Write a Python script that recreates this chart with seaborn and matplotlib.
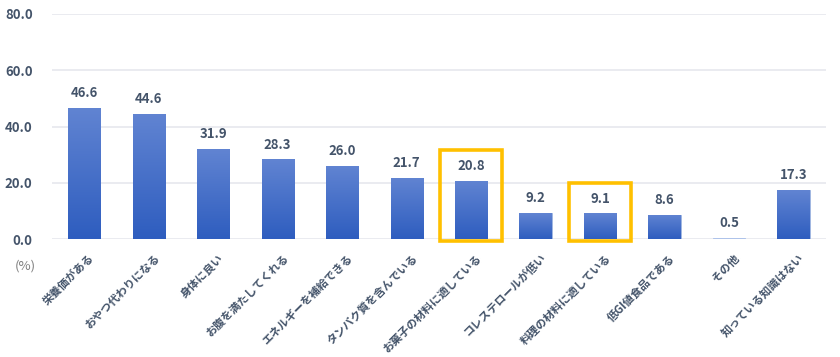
import numpy as np
import pandas as pd
import matplotlib
matplotlib.use("Agg")
import matplotlib.pyplot as plt
import matplotlib.transforms as mtransforms
import seaborn as sns
from matplotlib.patches import Rectangle

sns.set_theme(style="white")
plt.rcParams['font.family'] = ['Noto Sans CJK JP', 'DejaVu Sans']

# data
categories = ["栄養価がある", "おやつ代わりになる", "身体に良い", "お腹を満たしてくれる",
              "エネルギーを補給できる", "タンパク質を含んでいる", "お菓子の材料に適している",
              "コレステロールが低い", "料理の材料に適している", "低GI値食品である",
              "その他", "知っている知識はない"]
values = [46.6, 44.6, 31.9, 28.3, 26.0, 21.7, 20.8, 9.2, 9.1, 8.6, 0.5, 17.3]
highlight = ["お菓子の材料に適している", "料理の材料に適している"]
yticks = [0, 20, 40, 60, 80]

df = pd.DataFrame({"item": categories, "pct": values})

text_col = "#44546A"

fig = plt.figure(figsize=(8.4, 3.57), dpi=100)
ax = fig.add_axes([0.062, 0.3305, 0.921, 0.6303])

sns.barplot(data=df, x="item", y="pct", color="#4472C4", width=0.5,
            saturation=1, ax=ax, zorder=3)

# gradient fill on the bars
grad = np.linspace(0, 1, 256).reshape(-1, 1)
cmap = matplotlib.colors.LinearSegmentedColormap.from_list(
    "bluegrad", ["#2E5DBF", "#6184D2"])
for bar in ax.patches:
    x0, y0 = bar.get_x(), bar.get_y()
    w, h = bar.get_width(), bar.get_height()
    bar.set_facecolor("none")
    bar.set_edgecolor("#8FAADC")
    bar.set_linewidth(0.6)
    if h < 2:
        # tiny bar only shows the light top of the gradient
        bar.set_facecolor("#A9C0EA")
        bar.set_edgecolor("#A9C0EA")
        continue
    im = ax.imshow(grad, cmap=cmap, aspect="auto", origin="lower",
                   extent=[x0, x0 + w, y0, y0 + h], zorder=3)
    im.set_clip_path(bar)

ax.set_xlim(-0.5, len(categories) - 0.5)
ax.set_ylim(0, 80)
ax.set_yticks(yticks)
ax.set_yticklabels([f"{t:.1f}" for t in yticks], fontsize=9.5,
                   fontweight="bold", color=text_col)
ax.yaxis.grid(True, color="#E6E8EE", linewidth=1.2, zorder=0)
ax.set_axisbelow(True)
for s in ax.spines.values():
    s.set_visible(False)
ax.tick_params(axis="both", length=0)
ax.tick_params(axis="y", pad=14)
ax.tick_params(axis="x", pad=9)
ax.set_xlabel("")
ax.set_ylabel("")

ax.set_xticks(range(len(categories)))
ax.set_xticklabels(categories, rotation=45, ha="right", rotation_mode="anchor",
                   fontsize=8, fontweight="bold", color=text_col)
shift = mtransforms.ScaledTranslation(4 / 100, 0, fig.dpi_scale_trans)
for lab in ax.get_xticklabels():
    lab.set_transform(lab.get_transform() + shift)

# value labels
for i, v in enumerate(values):
    ax.text(i, v + 2.8, f"{v:.1f}", ha="center", va="bottom", fontsize=9.5,
            fontweight="bold", color=text_col, zorder=5)

# highlight boxes
for name in highlight:
    i = categories.index(name)
    v = values[i]
    ax.add_patch(Rectangle((i - 0.48, -0.7), 0.96, v + 11.5, fill=False,
                           edgecolor="#FFC000", linewidth=2.6,
                           clip_on=False, zorder=6))

fig.text(0.018, 0.245, "(%)", fontsize=9.5, color="#7F7F7F")

plt.savefig("out.png", dpi=100)
